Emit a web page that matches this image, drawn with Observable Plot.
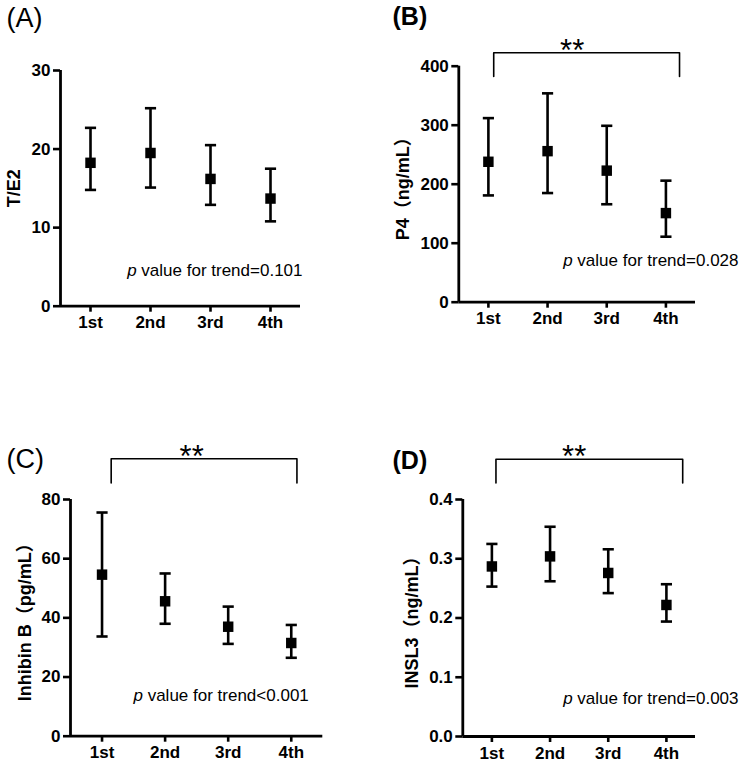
<!DOCTYPE html>
<html><head><meta charset="utf-8">
<script src="https://cdn.jsdelivr.net/npm/d3@7"></script>
<script src="https://cdn.jsdelivr.net/npm/@observablehq/plot@0.6"></script>
<style>
body{margin:0;background:#fff;}
#wrap{position:relative;width:743px;height:764px;overflow:hidden;}
#wrap > svg{position:absolute;overflow:visible;}
</style></head><body><div id="wrap"></div>
<script>
const quartiles = ["1st", "2nd", "3rd", "4th"];

const teMean = [18.25, 19.5, 16.2, 13.7];
const teLow  = [14.8, 15.1, 12.9, 10.8];
const teHigh = [22.7, 25.2, 20.5, 17.5];

const p4Mean = [238, 256, 223, 151];
const p4Low  = [181, 185, 166, 111];
const p4High = [312, 354, 299, 206];

const inhMean = [54.6, 45.6, 37.0, 31.5];
const inhLow  = [33.7, 38.0, 31.2, 26.5];
const inhHigh = [75.6, 55.0, 43.8, 37.6];

const inslMean = [0.287, 0.304, 0.276, 0.222];
const inslLow  = [0.253, 0.262, 0.242, 0.194];
const inslHigh = [0.325, 0.354, 0.316, 0.257];

const panelTags = ["(A)", "(B)", "(C)", "(D)"];
const yLabels = ["T/E2", "P4（ng/mL）", "Inhibin B（pg/mL）", "INSL3（ng/mL）"];
const pTexts = ["p value for trend=0.101", "p value for trend=0.028", "p value for trend<0.001", "p value for trend=0.003"];
const yTicksA = [0, 10, 20, 30];
const yTicksB = [0, 100, 200, 300, 400];
const yTicksC = [0, 20, 40, 60, 80];
const yTicksD = [0, 0.1, 0.2, 0.3, 0.4];

const FONT = "'Liberation Sans', Arial, 'Noto Sans CJK JP', sans-serif";

// horizontal cap symbol for error bars
const capSymbol = {
  draw(context, size) {
    const w = Math.sqrt(size) / 2;
    context.moveTo(-w, 0);
    context.lineTo(w, 0);
  }
};

function makePanel(cfg) {
  const data = quartiles.map((q, i) => ({q, x: i + 1, m: cfg.mean[i], lo: cfg.low[i], hi: cfg.high[i]}));
  const m = cfg.margin;
  const marks = [
    Plot.ruleX(data, {x: "x", y1: "lo", y2: "hi", stroke: "#000", strokeWidth: 2.6}),
    Plot.dot(data, {x: "x", y: "hi", symbol: capSymbol, r: 6.3, stroke: "#000", strokeWidth: 2.6, fill: "none"}),
    Plot.dot(data, {x: "x", y: "lo", symbol: capSymbol, r: 6.3, stroke: "#000", strokeWidth: 2.6, fill: "none"}),
    Plot.dot(data, {x: "x", y: "m", symbol: "square", r: 5.9, fill: "#000", stroke: "none"}),
    Plot.axisY({ticks: cfg.yTicks, tickFormat: cfg.yFormat, tickSize: 7, tickPadding: 3, strokeWidth: 2.6, label: null, fontSize: 17, fontWeight: "bold"}),
    Plot.axisX({ticks: [1, 2, 3, 4], tickFormat: i => quartiles[i - 1], tickSize: 6, tickPadding: 4, strokeWidth: 2.6, label: null, fontSize: 17, fontWeight: "bold"}),
    Plot.ruleY([cfg.yDomain[0]], {stroke: "#000", strokeWidth: 2.8}),
    Plot.ruleX([0.5], {y1: cfg.yDomain[0], y2: cfg.yDomain[1], stroke: "#000", strokeWidth: 2.8}),
    Plot.text([cfg.yLabel], {text: d => d, frameAnchor: "left", rotate: -90, dx: cfg.yLabelDx, fontSize: 18, fontWeight: "bold", textAnchor: "middle", lineAnchor: "middle"}),
    Plot.text([cfg.tag], {text: d => d, frameAnchor: "top-left", dx: cfg.tagX - m[3], dy: cfg.tagY - m[0], textAnchor: "start", lineAnchor: "bottom", fontSize: cfg.tagBold ? 25 : 27, fontWeight: cfg.tagBold ? "bold" : "normal"}),
    Plot.text([cfg.pText], {text: d => d, frameAnchor: "bottom-right", dx: cfg.pDx, dy: cfg.pDy, textAnchor: "end", lineAnchor: "bottom", fontSize: 17, fontWeight: "normal", className: "ptrend"})
  ];
  if (cfg.bracket) {
    const b = cfg.bracket;
    marks.push(Plot.line([[b.x1, b.yb], [b.x1, b.yt], [b.x2, b.yt], [b.x2, b.yb]], {x: d => d[0], y: d => d[1], stroke: "#000", strokeWidth: 1.6, clip: false}));
    marks.push(Plot.text(["**"], {x: [2.5], y: [b.yt], text: d => d, dx: -5, dy: -2, fontSize: 31, fontWeight: "normal", lineAnchor: "middle", letterSpacing: 2}));
  }
  const svg = Plot.plot({
    width: cfg.width,
    height: cfg.height,
    marginTop: m[0], marginRight: m[1], marginBottom: m[2], marginLeft: m[3],
    style: {fontFamily: FONT, fontSize: "16px", color: "#000", background: "transparent", overflow: "visible"},
    x: {type: "linear", domain: [0.5, 4.5]},
    y: {type: "linear", domain: cfg.yDomain},
    marks
  });
  svg.style.left = cfg.left + "px";
  svg.style.top = cfg.top + "px";
  // italic "p"
  d3.select(svg).selectAll("g.ptrend text").each(function() {
    const t = this.textContent;
    const el = d3.select(this);
    el.text("");
    el.append("tspan").attr("font-style", "italic").text(t.slice(0, 1));
    el.append("tspan").text(t.slice(1));
  });
  document.getElementById("wrap").appendChild(svg);
}

makePanel({
  left: 0, top: 0, width: 370, height: 380, margin: [70, 70, 74.3, 60],
  yDomain: [0, 30], yTicks: yTicksA, yFormat: d3.format("d"),
  mean: teMean, low: teLow, high: teHigh,
  yLabel: yLabels[0], yLabelDx: -46.5,
  tag: panelTags[0], tagBold: false, tagX: 6, tagY: 26,
  pText: pTexts[0], pDx: 2, pDy: -30.7
});
makePanel({
  left: 370, top: 0, width: 373, height: 380, margin: [65.7, 48, 78.3, 88.3],
  yDomain: [0, 400], yTicks: yTicksB, yFormat: d3.format("d"),
  mean: p4Mean, low: p4Low, high: p4High,
  yLabel: yLabels[1], yLabelDx: -56,
  tag: panelTags[1], tagBold: true, tagX: 22, tagY: 25,
  pText: pTexts[1], pDx: 43, pDy: -36.7,
  bracket: {x1: 1.09, x2: 4.23, yt: 422.7, yb: 382.5}
});
makePanel({
  left: 0, top: 380, width: 370, height: 384, margin: [119, 47.7, 28.3, 70],
  yDomain: [0, 80], yTicks: yTicksC, yFormat: d3.format("d"),
  mean: inhMean, low: inhLow, high: inhHigh,
  yLabel: yLabels[2], yLabelDx: -45,
  tag: panelTags[2], tagBold: false, tagX: 6, tagY: 87,
  pText: pTexts[2], pDx: -14, pDy: -35.7,
  bracket: {x1: 1.145, x2: 4.09, yt: 93.75, yb: 85.6}
});
makePanel({
  left: 370, top: 380, width: 373, height: 384, margin: [119, 48, 28, 92.3],
  yDomain: [0, 0.4], yTicks: yTicksD, yFormat: d3.format(".1f"),
  mean: inslMean, low: inslLow, high: inslHigh,
  yLabel: yLabels[3], yLabelDx: -50.6,
  tag: panelTags[3], tagBold: true, tagX: 22, tagY: 88,
  pText: pTexts[3], pDx: 43, pDy: -33,
  bracket: {x1: 1.07, x2: 4.28, yt: 0.468, yb: 0.428}
});
</script></body></html>
